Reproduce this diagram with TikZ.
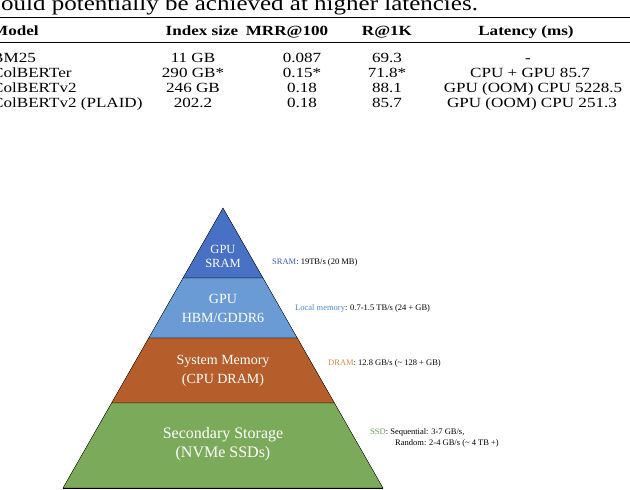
\documentclass[tikz,border=0pt]{standalone}
\usepackage{graphicx}
\usepackage{fontspec}
\setmainfont{Liberation Serif}
\usetikzlibrary{positioning}
\definecolor{sramfill}{RGB}{72,112,196}
\definecolor{hbmfill}{RGB}{106,155,212}
\definecolor{dramfill}{RGB}{181,94,43}
\definecolor{ssdfill}{RGB}{124,170,91}
\definecolor{sramtxt}{RGB}{60,93,170}
\definecolor{hbmtxt}{RGB}{80,134,198}
\definecolor{dramtxt}{RGB}{214,136,80}
\definecolor{ssdtxt}{RGB}{110,158,78}
\newcommand{\wide}[1]{\scalebox{1.22}[1]{#1}}
\tikzset{
  layertext/.style={text=white, align=center, inner sep=0pt},
  infotext/.style={anchor=west, inner sep=0pt, font=\fontsize{8.5}{10}\selectfont},
  celltext/.style={anchor=base, inner sep=0pt, font=\fontsize{14}{15}\selectfont},
  headtext/.style={celltext, font=\fontsize{14}{15}\selectfont\bfseries},
}
\begin{document}
\begin{tikzpicture}[x=1pt, y=-1pt]
    \useasboundingbox (0,0) rectangle (630,490);
    % table above the figure
    \node[anchor=base west, inner sep=0pt, font=\fontsize{21}{24}\selectfont] (caption) at (1,10.5) {\scalebox{1.19}[1]{ould potentially be achieved at higher latencies.}};
    \draw[line width=1.6pt] (0,17.5) -- (630,17.5);
    \draw[line width=0.6pt] (0,42) -- (630,42);
    \node[headtext, anchor=base west] (hmodel) at (-8,35) {\wide{Model}};
    \node[headtext] (hindex) at (202,35) {\wide{Index size}};
    \node[headtext] (hmrr) at (287,35) {\wide{MRR@100}};
    \node[headtext] (hrecall) at (387,35) {\wide{R@1K}};
    \node[headtext] (hlatency) at (526,35) {\wide{Latency (ms)}};
    \node[celltext, anchor=base west] (mbm) at (-8,62) {\wide{BM25}};
    \node[celltext] (ibm) at (193,62) {\wide{11 GB}};
    \node[celltext] (rbm) at (302,62) {\wide{0.087}};
    \node[celltext] (kbm) at (387,62) {\wide{69.3}};
    \node[celltext] (lbm) at (528,62) {\wide{-}};
    \node[celltext, anchor=base west] (mter) at (-8,77.5) {\wide{ColBERTer}};
    \node[celltext] (iter) at (193,77.5) {\wide{290 GB*}};
    \node[celltext] (rter) at (302,77.5) {\wide{0.15*}};
    \node[celltext] (kter) at (387,77.5) {\wide{71.8*}};
    \node[celltext] (lter) at (530,77.5) {\wide{CPU + GPU 85.7}};
    \node[celltext, anchor=base west] (mvtwo) at (-8,92.5) {\wide{ColBERTv2}};
    \node[celltext] (ivtwo) at (193,92.5) {\wide{246 GB}};
    \node[celltext] (rvtwo) at (302,92.5) {\wide{0.18}};
    \node[celltext] (kvtwo) at (387,92.5) {\wide{88.1}};
    \node[celltext] (lvtwo) at (533,92.5) {\wide{GPU (OOM) CPU 5228.5}};
    \node[celltext, anchor=base west] (mplaid) at (-8,107) {\wide{ColBERTv2 (PLAID)}};
    \node[celltext] (iplaid) at (193,107) {\wide{202.2}};
    \node[celltext] (rplaid) at (302,107) {\wide{0.18}};
    \node[celltext] (kplaid) at (387,107) {\wide{85.7}};
    \node[celltext] (lplaid) at (532,107) {\wide{GPU (OOM) CPU 251.3}};

    % memory pyramid
    \newcommand{\band}[3]{
        \filldraw[fill=#1, draw=black, line width=0.4pt]
            ({223-(#2-208)*4/7}, #2) -- ({223+(#2-208)*4/7}, #2) --
            ({223+(#3-208)*4/7}, #3) -- ({223-(#3-208)*4/7}, #3) -- cycle;
    }
    \band{sramfill}{208}{278}
    \band{hbmfill}{278}{338}
    \band{dramfill}{338}{403}
    \band{ssdfill}{403}{488}
    \draw[line width=1pt] (63,488) -- (383,488);

    \node[layertext, font=\fontsize{12.5}{14}\selectfont] (sram) at (223,256) {GPU\\SRAM};
    \node[layertext, font=\fontsize{14}{19}\selectfont] (hbm) at (223,308) {GPU\\HBM/GDDR6};
    \node[layertext, font=\fontsize{14}{19}\selectfont] (dram) at (223,371) {System Memory\\(CPU DRAM)};
    \node[layertext, font=\fontsize{16}{19}\selectfont] (ssd) at (223,444) {Secondary Storage\\(NVMe SSDs)};

    \node[infotext] (sraminfo) at (272,262) {\textcolor{sramtxt}{SRAM}: 19TB/s (20 MB)};
    \node[infotext] (hbminfo) at (295,308) {\textcolor{hbmtxt}{Local memory}: 0.7-1.5 TB/s (24 + GB)};
    \node[infotext] (draminfo) at (328,363) {\textcolor{dramtxt}{DRAM}: 12.8 GB/s (\textasciitilde{} 128 + GB)};
    \node[infotext] (ssdinfo) at (370,432) {\textcolor{ssdtxt}{SSD}: Sequential: 3-7 GB/s,};
    \node[infotext] (ssdinfob) at (395,443) {Random: 2-4 GB/s (\textasciitilde{} 4 TB +)};
\end{tikzpicture}
\end{document}
